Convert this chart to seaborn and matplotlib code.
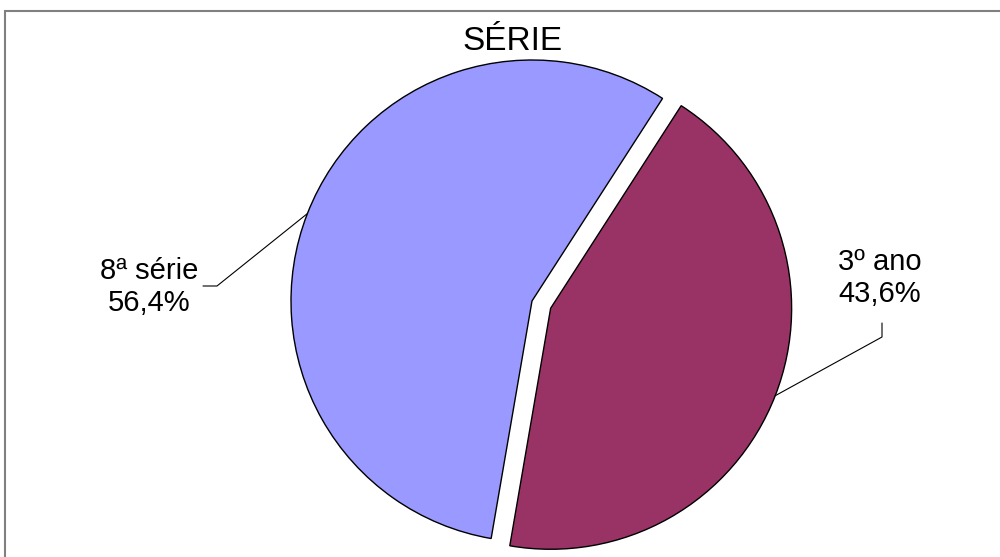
import numpy as np
import matplotlib
matplotlib.use("Agg")
import matplotlib.pyplot as plt
import seaborn as sns
from matplotlib.patches import Rectangle

categories = ["8ª série", "3º ano"]
values = [56.4, 43.6]
colors = ["#9999FF", "#993366"]
title = "SÉRIE"

sns.set_theme(style="white")
plt.rcParams["font.family"] = ["Liberation Sans", "DejaVu Sans"]

fig = plt.figure(figsize=(10, 5.57), dpi=100)
ax = fig.add_axes([0, 0, 1, 1])

wedges, _ = ax.pie(values, colors=colors, startangle=57.2, counterclock=True,
                   explode=[0, 20], radius=241, center=(532, 256),
                   wedgeprops=dict(edgecolor="black", linewidth=1.0))
ax.set_xlim(0, 1000)
ax.set_ylim(0, 557)
ax.set_aspect("equal")
ax.axis("off")

def fmt(v):
    return f"{v:.1f}%".replace(".", ",")

# label layout: (text x, text y, leader start, leader elbow)
layout = [
    dict(tx=149, ty=557 - 287, p0=(203, 557 - 286), p1=(217, 557 - 286)),
    dict(tx=880, ty=557 - 278, p0=(882, 557 - 323), p1=(882, 557 - 337)),
]
for w, cat, v, L in zip(wedges, categories, values, layout):
    cx, cy = w.center
    tm = np.deg2rad((w.theta1 + w.theta2) / 2)
    ax_, ay_ = cx + w.r * np.cos(tm), cy + w.r * np.sin(tm)
    ax.plot([L["p0"][0], L["p1"][0], ax_], [L["p0"][1], L["p1"][1], ay_],
            color="black", lw=0.8)
    ax.text(L["tx"], L["ty"], f"{cat}\n{fmt(v)}", ha="center", va="center",
            fontsize=21, linespacing=1.2, color="black")

ax.text(513, 557 - 41, title, ha="center", va="center", fontsize=24, color="black")

fig.add_artist(Rectangle((5 / 1000, -0.1), 1.2, (557 - 11) / 557 + 0.1,
                         transform=fig.transFigure, fill=False,
                         edgecolor="#808080", lw=1.5))

fig.savefig("out.png", dpi=100)
